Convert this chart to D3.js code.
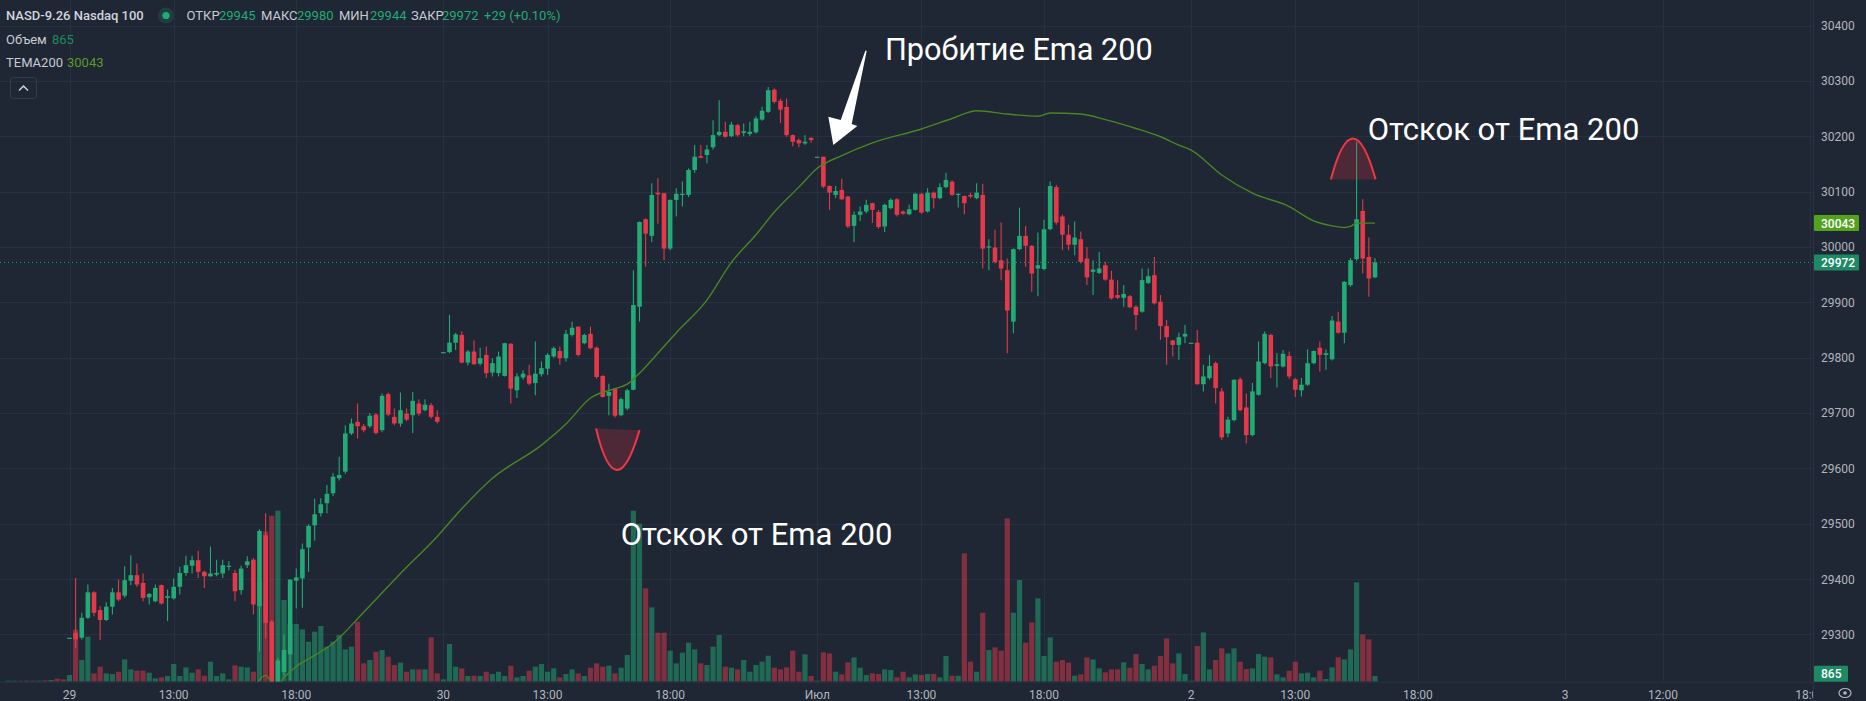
<!DOCTYPE html>
<html><head><meta charset="utf-8">
<script src="https://cdn.jsdelivr.net/npm/d3@7"></script>
<style>html,body{margin:0;padding:0;background:#1f2634;overflow:hidden}</style>
</head><body><svg id="c" width="1866" height="701"></svg>
<script>
// ---------- DATA (15-min candles, index 0 = 29 June 08:45) ----------
const opens = [29294,29303,29294,29330,29376,29344,29326,29350,29376,29370,29397,29407,29393,29367,29360,29389,29366,29365,29386,29411,29424,29434,29413,29405,29408,29410,29422,29411,29380,29425,29435,29351,29479,29323,29208,29232,29264,29397,29401,29457,29497,29519,29537,29555,29582,29594,29663,29684,29676,29676,29697,29669,29734,29693,29681,29699,29696,29717,29705,29714,29693,
29810,29810,29827,29841,29791,29811,29789,29805,29773,29772,29767,29825,29741,29764,29768,29754,29770,29780,29802,29812,29799,29841,29856,29826,29843,29818,29767,29731,29744,29696,29708,29742,29892,30050,30020,30098,30097,29997,30085,30094,30094,30139,30164,30166,30180,30202,30208,30200,30220,30206,30204,30207,30230,30244,30284,30264,30253,30202,30193,30187,30197,
30163,30163,30110,30094,30103,30091,30038,30058,30064,30079,30063,30037,30070,30086,30064,30059,30067,30096,30064,30098,30088,30108,30118,30094,30092,30094,30088,30094,29999,29999,29976,29958,29865,29996,30020,30002,29961,29960,30032,30108,30055,30022,30004,30014,29979,29955,29953,29967,29941,29913,29908,29911,29892,29883,29935,29949,29901,29857,29831,29823,29838,
29827,29827,29752,29763,29790,29739,29663,29687,29761,29710,29660,29733,29790,29841,29785,29784,29803,29761,29741,29751,29790,29818,29805,29797,29865,29845,29931,29978,30065,29982,29945];
const highs = [29294,29402,29339,29390,29378,29351,29358,29384,29399,29423,29443,29428,29410,29375,29390,29390,29381,29401,29422,29442,29442,29451,29415,29459,29435,29435,29432,29417,29424,29441,29438,29490,29519,29326,29258,29300,29399,29419,29464,29499,29545,29546,29570,29591,29621,29678,29690,29717,29680,29700,29700,29735,29737,29708,29737,29708,29738,29725,29725,29718,29705,
29810,29877,29845,29847,29814,29831,29818,29820,29799,29811,29827,29826,29772,29777,29787,29829,29793,29808,29820,29820,29850,29865,29856,29843,29856,29820,29768,29753,29745,29728,29744,29958,30046,30052,30115,30124,30098,30085,30106,30118,30142,30184,30184,30184,30229,30265,30226,30226,30222,30223,30226,30236,30253,30289,30286,30268,30268,30203,30196,30202,30198,
30163,30163,30111,30110,30123,30092,30064,30073,30085,30080,30067,30078,30088,30088,30066,30076,30098,30098,30106,30100,30115,30134,30120,30097,30093,30098,30115,30114,30014,30031,30044,29979,29997,30071,30038,30003,30026,30049,30118,30112,30058,30040,30046,30028,30000,29976,29991,29973,29957,29940,29931,29913,29895,29961,29961,29982,29913,29868,29832,29845,29859,
29827,29850,29787,29805,29793,29745,29693,29761,29764,29735,29754,29829,29847,29843,29808,29814,29811,29763,29763,29815,29813,29829,29815,29875,29883,29938,29980,30190,30086,30017,29980];
const lows = [29294,29276,29291,29328,29333,29290,29324,29336,29360,29366,29389,29386,29360,29354,29358,29354,29324,29363,29372,29406,29410,29402,29384,29404,29405,29402,29416,29360,29372,29420,29336,29269,29293,29190,29195,29225,29217,29347,29348,29413,29469,29513,29519,29550,29578,29590,29660,29654,29665,29673,29661,29665,29694,29678,29675,29685,29664,29695,29703,29690,29681,
29810,29808,29814,29790,29786,29787,29786,29763,29766,29766,29766,29717,29727,29760,29750,29732,29766,29769,29800,29787,29793,29838,29802,29824,29815,29762,29728,29696,29692,29694,29705,29741,29865,29964,30009,30042,29976,29994,30055,30073,30090,30134,30160,30151,30176,30200,30197,30198,30199,30200,30200,30205,30228,30242,30259,30224,30199,30182,30180,30184,30188,
30163,30106,30067,30088,30085,30034,30009,30047,30061,30043,30033,30027,30068,30055,30058,30057,30066,30060,30062,30070,30086,30106,30092,30071,30059,30088,30086,29961,29958,29970,29940,29808,29844,29994,29964,29919,29911,29958,30030,30040,29994,29994,29985,29970,29931,29913,29951,29939,29905,29906,29892,29889,29850,29881,29933,29896,29832,29787,29802,29796,29826,
29827,29751,29739,29760,29717,29651,29656,29685,29703,29645,29658,29731,29788,29763,29746,29782,29762,29729,29730,29749,29788,29775,29778,29795,29843,29826,29928,29975,29952,29910,29944];
const closes = [29294,29291,29330,29376,29339,29326,29350,29376,29363,29398,29407,29390,29366,29373,29384,29356,29369,29386,29411,29425,29434,29413,29405,29410,29411,29425,29424,29378,29419,29432,29354,29487,29321,29205,29253,29272,29399,29403,29454,29496,29517,29535,29554,29585,29588,29663,29681,29676,29669,29695,29664,29731,29697,29681,29705,29688,29722,29699,29715,29693,29684,
29810,29827,29842,29791,29811,29788,29799,29772,29790,29802,29826,29744,29766,29771,29753,29771,29781,29805,29817,29799,29843,29854,29805,29841,29817,29765,29729,29738,29695,29725,29741,29895,30045,30024,30094,30095,29997,30085,30096,30096,30139,30163,30161,30176,30202,30208,30199,30221,30202,30209,30208,30232,30246,30283,30262,30248,30202,30190,30187,30190,30193,
30163,30109,30098,30101,30086,30037,30058,30064,30076,30067,30036,30076,30085,30058,30060,30068,30096,30062,30098,30088,30108,30121,30094,30096,30079,30091,30098,29997,30001,29973,29961,29885,29996,30020,30002,29952,29967,30032,30110,30044,30022,30004,30017,29973,29945,29959,29961,29941,29907,29908,29915,29891,29877,29940,29947,29898,29857,29837,29823,29837,29843,
29827,29752,29766,29785,29745,29656,29688,29760,29705,29660,29739,29793,29843,29784,29788,29807,29766,29742,29751,29790,29812,29805,29808,29867,29845,29937,29976,30050,29979,29943,29972];
const volumes = [1000,7800,3250,6750,1250,2250,1250,1150,1500,3350,1850,1650,1650,1350,500,650,850,2650,850,2150,1350,1850,900,3000,850,1250,350,2450,2250,2150,1500,15000,22500,24900,25650,12250,8650,8650,7850,6000,7500,8350,5250,6000,7000,4850,5250,9000,2750,3250,4500,4750,3750,2500,2850,1500,1850,1850,1850,6650,1250,
350,5650,2250,2000,850,900,850,1500,1150,1500,850,2400,650,850,1650,2250,2650,1500,2000,650,1150,1850,1250,850,2100,2750,2250,2400,1250,2100,4000,25650,23700,14000,11150,7350,7350,4650,2750,4350,5850,4850,2750,2500,5250,7000,2250,2100,1850,3250,1500,2500,3000,3900,2100,1850,2150,4650,1500,4100,850,
150,4400,4250,1500,1100,2900,3650,2100,1000,1250,1150,1850,1750,650,1500,650,1100,1000,1150,1150,650,3850,900,900,19250,3000,1500,10350,4750,5150,4650,24500,10350,15250,5850,8900,12500,3850,6650,3000,3250,2850,900,1100,3650,3350,2000,1400,1850,1850,2900,2100,4150,2650,1850,2400,3850,6500,2750,4250,1150,
150,5350,7400,1850,3250,5000,4250,5000,3000,1900,2000,4150,3750,3650,1100,650,1650,3000,1250,1350,650,1650,400,2150,3650,3350,4850,14900,7100,6350,865];
// weekend-session bars before 29 June (volume only, candles out of view)
const weekendVolumes = [150,150,150,150,150,150,200,250,450,350];
const weekendUp = [true,true,false,true,false,true,false,true,false,false];
// TEMA200 values at candle indices
const temaIdx  = [30,31,32,33,34,35,37,40,43,48,54,60,64,69,77,81,85,89,91,93,96,99,104,108,112,115,119,122,126,131,139,144,148,153,158,160,165,169,174,178,181,183,188,193,199,203,206,208,209,210,213];
const temaVals = [29200,29218,29226,29214,29210,29222,29242,29262,29284,29340,29410,29477,29527,29582,29642,29680,29727,29744,29752,29772,29808,29845,29904,29972,30022,30063,30108,30142,30165,30188,30213,30232,30246,30240,30236,30242,30240,30230,30214,30199,30184,30175,30130,30097,30073,30047,30038,30035,30037,30043,30043];
const priceTicks = [29300,29400,29500,29600,29700,29800,29900,30000,30100,30200,30300,30400];
const timeTickIdx = [0,17,37,61,78,98,122,139,159,183,200,220,244,260,284];
const timeTickLabels = ["29","13:00","18:00","30","13:00","18:00","Июл","13:00","18:00","2","13:00","18:00","3","12:00","18:00"];
// annotations (candle index, price)
const arrowShape = [[130.07,30354.5],[127.62,30222],[128.54,30218.4],[124.62,30184.1],[123.81,30235.2],[125.83,30229.3],[129.84,30354.5]];
const cupPts = [[85.9,29672],[89.3,29597],[93.0,29669]];
const capPts = [[205.8,30122],[209.4,30196],[213.1,30122]];
const notes = [
  {text:"Пробитие Ema 200", i:133.05, p:30337, w:268},
  {text:"Отскок от Ema 200", i:211.8, p:30193, w:272},
  {text:"Отскок от Ema 200", i:89.93, p:29461, w:272}
];
const lastClose = 29972, lastTema = 30043, lastVol = 865;

// ---------- LAYOUT ----------
const W=1866,H=701,paneR=1813,paneB=681.7;
const UP="#22ab76", DN="#e5394b", UPV="rgba(34,171,118,0.5)", DNV="rgba(229,57,75,0.5)";
const FONT="Roboto, 'Noto Sans', sans-serif";
const svg=d3.select("#c");
svg.append("rect").attr("width",W).attr("height",H).attr("fill","#1f2634");
const x=d3.scaleLinear().domain([0,244]).range([69.5,1565]);
const y=d3.scaleLinear().domain([29300,30400]).range([634.4,25.5]);
const vy=d3.scaleLinear().domain([0,27000]).range([paneB,paneB-180]);

svg.append("clipPath").attr("id","pane").append("rect").attr("x",0).attr("y",0).attr("width",paneR).attr("height",paneB);
const g=svg.append("g").attr("clip-path","url(#pane)");

// grid
g.selectAll(".hg").data(priceTicks).join("line").attr("x1",0).attr("x2",paneR)
 .attr("y1",d=>Math.round(y(d))+0.5).attr("y2",d=>Math.round(y(d))+0.5).attr("stroke","#263041").attr("stroke-width",1);
g.selectAll(".vg").data(timeTickIdx).join("line").attr("y1",0).attr("y2",paneB)
 .attr("x1",d=>Math.round(x(d))+0.5).attr("x2",d=>Math.round(x(d))+0.5).attr("stroke","#263041").attr("stroke-width",1);

// candles data
const candles=opens.map((o,i)=>({i,o,h:highs[i],l:lows[i],c:closes[i],v:volumes[i]}));
const wk=weekendVolumes.map((v,k)=>({i:k-weekendVolumes.length,v,up:weekendUp[k]}));

// volume
const vw=5.2;
g.selectAll(".vol").data(candles.map(d=>({i:d.i,v:d.v,up:d.c>=d.o})).concat(wk)).join("rect")
 .attr("x",d=>x(d.i)-vw/2).attr("width",vw)
 .attr("y",d=>vy(d.v)).attr("height",d=>paneB-vy(d.v))
 .attr("fill",d=>d.up?UPV:DNV);

// wicks
g.selectAll(".wick").data(candles).join("line")
 .attr("x1",d=>x(d.i)).attr("x2",d=>x(d.i)).attr("y1",d=>y(d.h)).attr("y2",d=>y(d.l))
 .attr("stroke",d=>d.c>=d.o?UP:DN).attr("stroke-width",1.1);
// bodies
const bw=4.6;
g.selectAll(".body").data(candles).join("rect")
 .attr("x",d=>x(d.i)-bw/2).attr("width",bw)
 .attr("y",d=>y(Math.max(d.o,d.c)))
 .attr("height",d=>Math.max(1.2,Math.abs(y(d.o)-y(d.c))))
 .attr("fill",d=>d.c>=d.o?UP:DN);

// TEMA
const tema=temaIdx.map((i,k)=>({i,v:temaVals[k]}));
g.append("path").datum(tema).attr("fill","none").attr("stroke","#4a8524").attr("stroke-width",1.4)
 .attr("d",d3.line().x(d=>x(d.i)).y(d=>y(d.v)).curve(d3.curveMonotoneX));

// last price dotted line
g.append("line").attr("x1",0).attr("x2",paneR).attr("y1",y(lastClose)).attr("y2",y(lastClose))
 .attr("stroke","#1f9b72").attr("stroke-width",1).attr("stroke-dasharray","1,3");

// annotations: arcs
function qpath(pts){
  const p=pts.map(d=>[x(d[0]),y(d[1])]);
  const cx=2*p[1][0]-(p[0][0]+p[2][0])/2, cy=2*p[1][1]-(p[0][1]+p[2][1])/2;
  return `M${p[0][0]},${p[0][1]} Q${cx},${cy} ${p[2][0]},${p[2][1]}`;
}
[cupPts,capPts].forEach(pts=>{
  const q=qpath(pts);
  g.append("path").attr("d",q+" Z").attr("fill","rgba(242,54,69,0.22)").attr("stroke","none");
  g.append("path").attr("d",q).attr("fill","none").attr("stroke","#f23645").attr("stroke-width",2);
});
// arrow
g.append("path").attr("d",d3.line().x(d=>x(d[0])).y(d=>y(d[1]))(arrowShape)+"Z").attr("fill","#ffffff");
// notes
notes.forEach(n=>{
  const t=g.append("text").attr("x",x(n.i)).attr("y",y(n.p)).attr("fill","#ffffff")
   .attr("font-family",FONT).attr("font-size",30).text(n.text);
  const w=t.node().getComputedTextLength();
  if(w>0) t.attr("font-size",30*n.w/w);
});

// legend
const lg=svg.append("g").attr("font-family",FONT).attr("font-size",13);
lg.append("text").attr("x",6).attr("y",20).attr("fill","#d1d4dc").attr("font-weight",500).text("NASD-9.26 Nasdaq 100");
lg.append("circle").attr("cx",166).attr("cy",15.5).attr("r",8).attr("fill","rgba(34,171,118,0.18)");
lg.append("circle").attr("cx",166).attr("cy",15.5).attr("r",3.6).attr("fill",UP);
const ohlcLabels=["ОТКР","МАКС","МИН","ЗАКР"], ohlcVals=[opens[213],highs[213],lows[213],closes[213]];
const lx=[186.6,261,339,411], vx=[219,297,370,442];
ohlcLabels.forEach((l,k)=>{
  lg.append("text").attr("x",lx[k]).attr("y",20).attr("fill","#c8cbd3").text(l);
  lg.append("text").attr("x",vx[k]).attr("y",20).attr("fill",UP).text(ohlcVals[k]);
});
const chg=closes[213]-29943;
lg.append("text").attr("x",484).attr("y",20).attr("fill",UP).text(`+${chg} (+${(chg/29943*100).toFixed(2)}%)`);
lg.append("text").attr("x",6).attr("y",44).attr("fill","#c8cbd3").text("Объем");
lg.append("text").attr("x",52).attr("y",44).attr("fill","#1d8a64").text(lastVol);
lg.append("text").attr("x",6).attr("y",67).attr("fill","#c8cbd3").text("TEMA200");
lg.append("text").attr("x",67).attr("y",67).attr("fill","#5a9a28").text(lastTema);
lg.append("rect").attr("x",10.5).attr("y",77.5).attr("width",26).attr("height",21).attr("rx",3)
 .attr("fill","none").attr("stroke","#363d4e");
lg.append("path").attr("d","M19,90.5 L23.5,86 L28,90.5").attr("fill","none").attr("stroke","#d1d4dc").attr("stroke-width",1.5);

// time axis
svg.append("line").attr("x1",0).attr("x2",W).attr("y1",paneB+0.5).attr("y2",paneB+0.5).attr("stroke","#2c3444");
svg.selectAll(".tl").data(timeTickIdx).join("text").attr("x",d=>x(d)).attr("y",699)
 .attr("text-anchor","middle").attr("font-family",FONT).attr("font-size",12).attr("fill","#b2b5be")
 .text((d,k)=>timeTickLabels[k]);

// price axis
svg.append("rect").attr("x",paneR).attr("y",0).attr("width",W-paneR).attr("height",H).attr("fill","#1f2634");
svg.append("line").attr("x1",paneR+0.5).attr("x2",paneR+0.5).attr("y1",0).attr("y2",H).attr("stroke","#2c3444");
svg.selectAll(".pl").data(priceTicks).join("text").attr("x",paneR+8).attr("y",d=>y(d)+4.5)
 .attr("font-family",FONT).attr("font-size",12).attr("fill","#b2b5be").text(d=>d);
function tag(cy,txt,fill,w){
  svg.append("rect").attr("x",paneR+1).attr("y",cy-8).attr("width",w).attr("height",16).attr("rx",1).attr("fill",fill);
  svg.append("text").attr("x",paneR+8).attr("y",cy+4.5).attr("font-family",FONT).attr("font-size",12)
   .attr("font-weight",500).attr("fill","#ffffff").text(txt);
}
tag(y(lastTema),lastTema,"#53a21d",45);
tag(y(lastClose),lastClose,"#1d8a64",45);
tag(Math.min(vy(lastVol),paneB-8),lastVol,"#1d8a64",34);
// settings icon
svg.append("ellipse").attr("cx",1845).attr("cy",693).attr("rx",6).attr("ry",4.5).attr("fill","none").attr("stroke","#b2b5be").attr("stroke-width",1.2);
svg.append("circle").attr("cx",1845).attr("cy",693).attr("r",1.8).attr("fill","#b2b5be");
</script></body></html>
